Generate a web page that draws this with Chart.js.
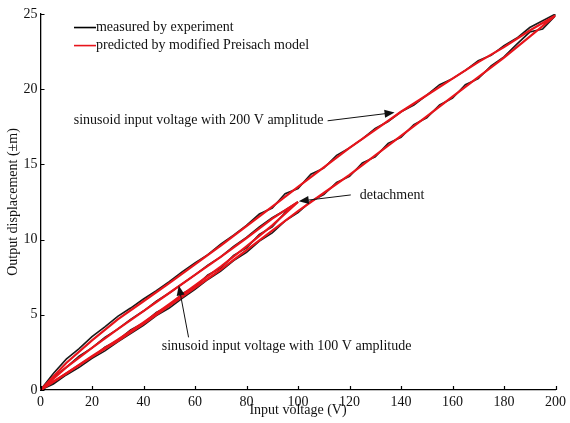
<!DOCTYPE html>
<html>
<head>
<meta charset="utf-8">
<script src="https://cdn.jsdelivr.net/npm/chart.js@4.4.0/dist/chart.umd.min.js"></script>
<style>
  html, body { margin: 0; padding: 0; background: #fff; }
  #wrap { width: 570px; height: 423px; position: relative; }
</style>
</head>
<body>
<div id="wrap"><canvas id="chart"></canvas></div>
<script>
// ---- data ----
// measured curves, 5 V steps
const xMeas200 = [0,5,10,15,20,25,30,35,40,45,50,55,60,65,70,75,80,85,90,95,100,105,110,115,120,125,130,135,140,145,150,155,160,165,170,175,180,185,190,195,200]
const measUp200 = [0,0.4,1.0,1.5,2.1,2.6,3.2,3.75,4.3,4.95,5.45,6.1,6.7,7.35,7.9,8.6,9.15,9.9,10.45,11.25,11.8,12.55,13.0,13.8,14.2,15.1,15.5,16.4,16.8,17.65,18.1,18.95,19.4,20.3,20.7,21.55,22.15,23.0,23.8,24.0,24.9]
// descending branch, listed from 200 V down to 0 V
const measDown200 = [25.0,24.55,24.1,23.4,22.9,22.25,21.9,21.25,20.7,20.3,19.6,18.95,18.5,17.85,17.4,16.7,16.1,15.6,14.75,14.35,13.4,13.05,12.1,11.7,10.95,10.3,9.7,9.0,8.45,7.85,7.2,6.6,6.05,5.45,4.9,4.2,3.55,2.75,2.05,1.1,0]

const xMeas100 = [0,5,10,15,20,25,30,35,40,45,50,55,60,65,70,75,80,85,90,95,100]
const measUp100 = [0,0.5,1.05,1.65,2.15,2.85,3.3,4.0,4.45,5.15,5.6,6.4,6.85,7.65,8.1,8.95,9.45,10.35,10.85,11.8,12.5]
const measDown100 = [12.5,11.95,11.45,10.85,10.15,9.55,8.85,8.3,7.65,7.05,6.45,5.9,5.25,4.7,4.05,3.5,2.8,2.25,1.5,0.85,0]

// model curves, 10 V steps
const xModel200 = [0,10,20,30,40,50,60,70,80,90,100,110,120,130,140,150,160,170,180,190,200]
const modelUp200 = [0,1.1,2.2,3.25,4.4,5.6,6.8,8.0,9.3,10.6,11.9,13.1,14.3,15.6,16.9,18.2,19.5,20.8,22.1,23.5,24.9]
const modelDown200 = [24.9,23.9,22.8,21.8,20.7,19.6,18.5,17.3,16.1,14.8,13.5,12.2,10.9,9.6,8.35,7.1,5.9,4.7,3.3,1.8,0]

const xModel100 = [0,10,20,30,40,50,60,70,80,90,100]
const modelUp100 = [0,1.1,2.25,3.35,4.5,5.7,6.95,8.2,9.55,10.95,12.5]
const modelDown100 = [12.5,11.4,10.1,8.85,7.65,6.45,5.25,4.05,2.8,1.5,0]

const legendLabels = ["measured by experiment", "predicted by modified Preisach model"]
const note200 = "sinusoid input voltage with 200 V amplitude"
const note100 = "sinusoid input voltage with 100 V amplitude"
const noteDetach = "detachment"

const SERIF = '"Liberation Serif", "Times New Roman", serif'
const FONT_SIZE = 14

// ascending x with ascending y, descending x listed from the top down
function loopPoints(xs, up, down) {
  const pts = xs.map((x, i) => ({ x: x, y: up[i] }))
  const rev = xs.slice().reverse()
  return pts.concat(rev.map((x, i) => ({ x: x, y: down[i] })))
}

function lineSet(data, color, width) {
  return {
    data: data,
    showLine: true,
    borderColor: color,
    backgroundColor: color,
    borderWidth: width,
    pointRadius: 0,
    tension: 0
  }
}

// inward tick marks on both axes
const inwardTicks = {
  id: "inwardTicks",
  afterDraw(chart) {
    const { ctx, chartArea, scales } = chart
    ctx.save()
    ctx.strokeStyle = "#000"
    ctx.lineWidth = 1.2
    ctx.beginPath()
    scales.x.ticks.forEach((t) => {
      const px = Math.round(scales.x.getPixelForValue(t.value)) + 0.5
      ctx.moveTo(px, chartArea.bottom)
      ctx.lineTo(px, chartArea.bottom - 4)
    })
    scales.y.ticks.forEach((t) => {
      const py = Math.round(scales.y.getPixelForValue(t.value)) + 0.5
      ctx.moveTo(chartArea.left, py)
      ctx.lineTo(chartArea.left + 4, py)
    })
    ctx.stroke()
    ctx.restore()
  }
}

function arrow(ctx, x1, y1, x2, y2) {
  const ang = Math.atan2(y2 - y1, x2 - x1)
  const len = 10, half = 4
  ctx.beginPath()
  ctx.moveTo(x1, y1)
  ctx.lineTo(x2 - Math.cos(ang) * len * 0.8, y2 - Math.sin(ang) * len * 0.8)
  ctx.stroke()
  ctx.beginPath()
  ctx.moveTo(x2, y2)
  ctx.lineTo(x2 - Math.cos(ang) * len - Math.sin(ang) * half, y2 - Math.sin(ang) * len + Math.cos(ang) * half)
  ctx.lineTo(x2 - Math.cos(ang) * len + Math.sin(ang) * half, y2 - Math.sin(ang) * len - Math.cos(ang) * half)
  ctx.closePath()
  ctx.fill()
}

// legend and text notes, placed in data units
const notes = {
  id: "notes",
  afterDatasetsDraw(chart) {
    const { ctx, scales: { x, y } } = chart
    const X = (v) => x.getPixelForValue(v)
    const Y = (v) => y.getPixelForValue(v)
    ctx.save()
    ctx.font = FONT_SIZE + "px " + SERIF
    ctx.fillStyle = "#111"
    ctx.textBaseline = "middle"
    ctx.textAlign = "left"

    // legend
    const lx = X(13), ly1 = Y(24.1), ly2 = Y(22.9)
    ctx.lineWidth = 1.6
    ctx.strokeStyle = "#000"
    ctx.beginPath(); ctx.moveTo(lx, ly1); ctx.lineTo(lx + 22, ly1); ctx.stroke()
    ctx.strokeStyle = "#e8141b"
    ctx.beginPath(); ctx.moveTo(lx, ly2); ctx.lineTo(lx + 22, ly2); ctx.stroke()
    ctx.fillText(legendLabels[0], lx + 22, ly1)
    ctx.fillText(legendLabels[1], lx + 22, ly2)

    ctx.strokeStyle = "#111"
    ctx.lineWidth = 1
    ctx.fillText(note200, X(12.9), Y(17.9))
    arrow(ctx, X(111.5), Y(17.9), X(137.5), Y(18.45))

    ctx.fillText(noteDetach, X(124), Y(12.97))
    arrow(ctx, X(120.5), Y(12.97), X(100.3), Y(12.55))

    ctx.fillText(note100, X(47.1), Y(2.93))
    arrow(ctx, X(57.5), Y(3.5), X(53.7), Y(6.95))
    ctx.restore()
  }
}

// Chart.js draws the first dataset on top, so the model (red) goes first
new Chart(document.getElementById("chart"), {
  type: "scatter",
  data: {
    datasets: [
      lineSet(loopPoints(xModel200, modelUp200, modelDown200), "#e8141b", 2.2),
      lineSet(loopPoints(xModel100, modelUp100, modelDown100), "#e8141b", 2.2),
      lineSet(loopPoints(xMeas200, measUp200, measDown200), "#1a1a1a", 1.6),
      lineSet(loopPoints(xMeas100, measUp100, measDown100), "#1a1a1a", 1.6)
    ]
  },
  options: {
    responsive: true,
    maintainAspectRatio: false,
    animation: false,
    layout: { padding: { top: 14, right: 10, left: 0, bottom: 0 } },
    plugins: { legend: { display: false }, tooltip: { enabled: false } },
    scales: {
      x: {
        type: "linear",
        min: 0,
        max: 200,
        grid: { display: false, drawTicks: false },
        border: { display: true, color: "#000", width: 1.3 },
        ticks: { stepSize: 20, padding: 4, color: "#111", font: { family: SERIF, size: FONT_SIZE }, maxRotation: 0 },
        title: { display: true, text: "Input voltage (V)", color: "#111", font: { family: SERIF, size: FONT_SIZE }, padding: { top: 0, bottom: 4 } },
        afterFit: (scale) => { scale.height = 33 }
      },
      y: {
        type: "linear",
        min: 0,
        max: 25,
        grid: { display: false, drawTicks: false },
        border: { display: true, color: "#000", width: 1.3 },
        ticks: { stepSize: 5, padding: 3, color: "#111", font: { family: SERIF, size: FONT_SIZE } },
        title: { display: true, text: "Output displacement (±m)", color: "#111", font: { family: SERIF, size: FONT_SIZE }, padding: { top: 5, bottom: 0 } },
        afterFit: (scale) => { scale.width = 40.5 }
      }
    }
  },
  plugins: [inwardTicks, notes]
})
</script>
</body>
</html>
